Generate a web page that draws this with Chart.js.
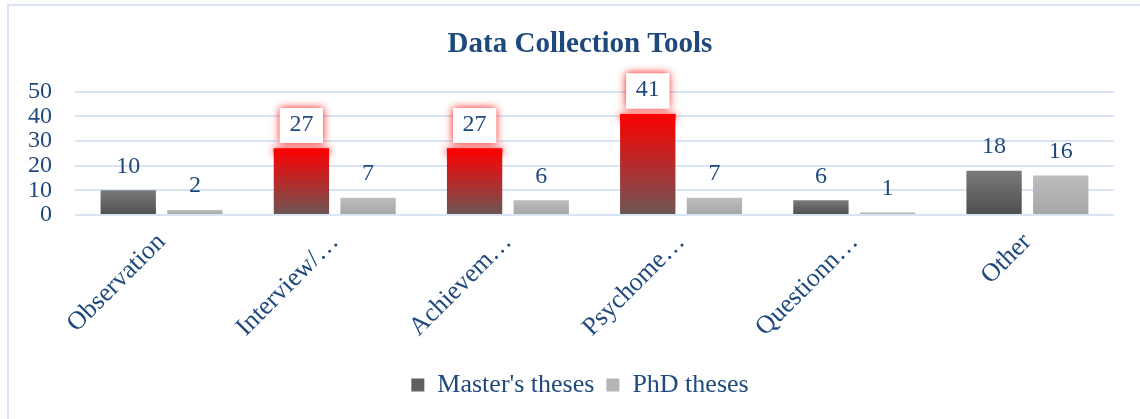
<!DOCTYPE html>
<html>
<head>
<meta charset="utf-8">
<script src="https://cdn.jsdelivr.net/npm/chart.js@4.4.1/dist/chart.umd.min.js"></script>
<style>
  html, body { margin: 0; padding: 0; background: #fff; }
  #frame { position: absolute; left: 7px; top: 4px; width: 1140px; height: 420px;
           border-left: 2px solid #d9e5f4; border-top: 2px solid #d9e5f4; }
  #wrap { position: absolute; left: 0; top: 0; width: 1140px; height: 419px; }
</style>
</head>
<body>
<div id="frame"></div>
<div id="wrap"><canvas id="c" width="1140" height="419"></canvas></div>
<script>
const categories = ['Observation', 'Interview/…', 'Achievem…', 'Psychome…', 'Questionn…', 'Other'];
const masters = [10, 27, 27, 41, 6, 18];
const phd = [2, 7, 6, 7, 1, 16];
const highlighted = [1, 2, 3];   // master bars drawn in red
const yTicks = [0, 10, 20, 30, 40, 50];

const TXT = '#1f497d';
const SERIF = '"Liberation Serif", "Times New Roman", serif';

function barGradient(c, stops) {
  const chart = c.chart;
  if (!chart.chartArea || c.raw == null) return stops[0];
  const ys = chart.scales.y;
  const top = ys.getPixelForValue(c.raw);
  const bottom = ys.getPixelForValue(0);
  const g = chart.ctx.createLinearGradient(0, top, 0, Math.max(bottom, top + 1));
  g.addColorStop(0, stops[0]);
  g.addColorStop(1, stops[1]);
  return g;
}

// red glow under highlighted bars + labels, then value labels on top
const labelPlugin = {
  id: 'valueLabels',
  beforeDatasetsDraw(chart) {
    const ctx = chart.ctx;
    const meta = chart.getDatasetMeta(0);
    ctx.save();
    highlighted.forEach(i => {
      const el = meta.data[i];
      ctx.shadowColor = 'rgba(255,0,0,0.9)';
      ctx.shadowBlur = 9;
      ctx.fillStyle = '#ff0000';
      ctx.fillRect(el.x - el.width / 2, el.y, el.width, 6);
    });
    ctx.restore();
  },
  afterDatasetsDraw(chart) {
    const ctx = chart.ctx;
    ctx.save();
    ctx.font = '24px ' + SERIF;
    ctx.textAlign = 'center';
    ctx.textBaseline = 'middle';
    chart.data.datasets.forEach((ds, di) => {
      const meta = chart.getDatasetMeta(di);
      meta.data.forEach((el, i) => {
        const cy = el.y - 24;
        if (di === 0 && highlighted.includes(i)) {
          const w = el.width * 0.78, h = 31;
          ctx.save();
          ctx.shadowColor = 'rgba(255,0,0,0.95)';
          ctx.shadowBlur = 8;
          ctx.fillStyle = '#fff';
          ctx.fillRect(el.x - w / 2, cy - h / 2 - 1, w, h + 4);
          ctx.restore();
          ctx.fillStyle = '#fff';
          ctx.fillRect(el.x - w / 2, cy - h / 2 - 1, w, h + 4);
        }
        ctx.fillStyle = TXT;
        ctx.fillText(String(ds.data[i]), el.x, cy);
      });
    });
    ctx.restore();
  }
};

new Chart(document.getElementById('c'), {
  type: 'bar',
  data: {
    labels: categories,
    datasets: [
      {
        label: "Master's theses",
        data: masters,
        backgroundColor: c => highlighted.includes(c.dataIndex)
          ? barGradient(c, ['#ff0000', '#6c5656'])
          : barGradient(c, ['#7a7a7a', '#4e4e4e']),
        categoryPercentage: 0.77,
        barPercentage: 0.83
      },
      {
        label: 'PhD theses',
        data: phd,
        backgroundColor: c => barGradient(c, ['#bdbdbd', '#a5a5a5']),
        categoryPercentage: 0.77,
        barPercentage: 0.83
      }
    ]
  },
  options: {
    responsive: false,
    animation: false,
    layout: { padding: { top: 0, right: 3, bottom: 11, left: 23 } },
    plugins: {
      title: {
        display: true,
        text: 'Data Collection Tools',
        color: TXT,
        font: { family: SERIF, size: 29, weight: 'bold' },
        padding: { top: 27, bottom: 30 }
      },
      legend: {
        position: 'bottom',
        labels: {
          color: TXT,
          font: { family: SERIF, size: 26 },
          boxWidth: 13, boxHeight: 13,
          padding: 12,
          generateLabels(chart) {
            const cols = ['#606060', '#b4b4b4'];
            return chart.data.datasets.map((d, i) => ({
              text: d.label, fillStyle: cols[i], strokeStyle: cols[i], lineWidth: 0,
              datasetIndex: i, fontColor: TXT
            }));
          }
        }
      },
      tooltip: { enabled: false }
    },
    scales: {
      x: {
        grid: { display: false },
        border: { display: false },
        ticks: {
          color: TXT,
          font: { family: SERIF, size: 26 },
          minRotation: 45, maxRotation: 45,
          autoSkip: false,
          padding: 4
        },
        afterFit(s) { s.height = 145; }
      },
      y: {
        min: 0, max: 50,
        afterBuildTicks(s) { s.ticks = yTicks.map(v => ({ value: v })); },
        grid: { color: '#d9e5f4', lineWidth: 2, drawTicks: false },
        border: { display: false },
        ticks: {
          color: TXT,
          font: { family: SERIF, size: 24 },
          autoSkip: false,
          padding: 23
        },
        afterFit(s) { s.width = 52; }
      },
      // empty right-hand spacer so title/legend centre like the original
      spacer: {
        type: 'linear',
        position: 'right',
        display: true,
        grid: { display: false },
        border: { display: false },
        ticks: { display: false },
        afterFit(s) { s.width = 23; }
      }
    }
  },
  plugins: [labelPlugin]
});
</script>
</body>
</html>
